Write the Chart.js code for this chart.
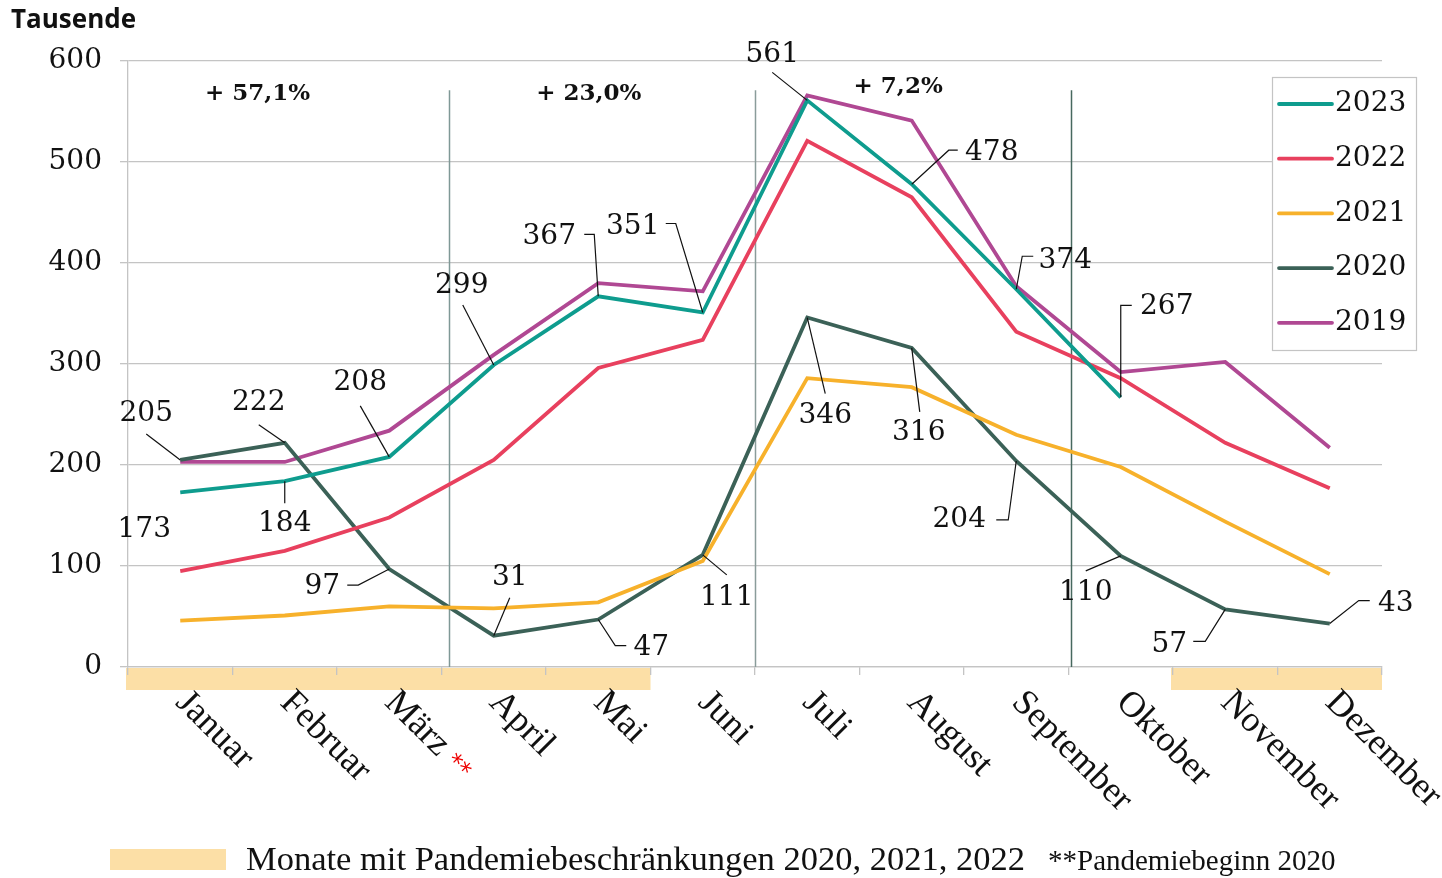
<!DOCTYPE html>
<html><head><meta charset="utf-8">
<script src="https://cdn.jsdelivr.net/npm/chart.js@4/dist/chart.umd.min.js"></script>
<style>html,body{margin:0;padding:0;background:#fff}canvas{display:block}</style>
</head><body>
<canvas id="c" width="1442" height="878"></canvas>
<script>
// ---------- data ----------
const months = ['Januar','Februar','März','April','Mai','Juni','Juli','August','September','Oktober','November','Dezember'];
const years = ['2023','2022','2021','2020','2019'];
const v2023 = [173,184,208,299,367,351,561,478,374,267,null,null];
const v2022 = [95,115,148,205,296,324,521,465,332,286,222,177];
const v2021 = [46,51,60,58,64,105,286,277,230,198,144,92];
const v2020 = [205,222,97,31,47,111,346,316,204,110,57,43];
const v2019 = [203,203,234,309,380,372,566,541,377,292,302,217];
const yTicks = [0,100,200,300,400,500,600];
const changeTexts = ['+ 57,1%','+ 23,0%','+ 7,2%'];
const restrictionSpans = [[0,4],[10,11]];        // month index ranges
const yAxisTitle = 'Tausende';
const restrictionLegend = 'Monate mit Pandemiebeschränkungen 2020, 2021, 2022';
const footnote = '**Pandemiebeginn 2020';
const markedMonth = 2; // März **

// ---------- styles / placements ----------
const colors = {'2023':'#0e9c8e','2022':'#e8405e','2021':'#f7b12b','2020':'#3b6157','2019':'#b04893'};
const SERIF_NUM = '"DejaVu Serif", serif';
const SERIF_TXT = '"Liberation Serif", serif';
// label placement: t = text offset from point, l = leader path offsets from point
const labelPlace = {
  '2023': [
    {t:[-36,37]},
    {t:[0,43], l:[[0,0],[0,22]]},
    {t:[-29,-74], l:[[-29,-51],[0,0]]},
    {t:[-32,-79], l:[[-31,-60],[0,0]]},
    {t:[-49,-60], l:[[-14,-62],[-4,-62],[0,0]]},
    {t:[-70,-86], l:[[-37,-89],[-27,-89],[0,0]]},
    {t:[-35,-46], l:[[-35,-28],[0,0]]},
    {t:[80,-32], l:[[46,-34],[37,-34],[0,0]]},
    {t:[49,-29], l:[[17,-33],[6,-33],[0,0]]},
    {t:[46,-91], l:[[11,-92],[0,-92],[0,0]]}
  ],
  '2020': [
    {t:[-34,-46], l:[[-34,-26],[0,0]]},
    {t:[-26,-40], l:[[-26,-18],[0,0]]},
    {t:[-67,18], l:[[-42,16],[-31,16],[0,0]]},
    {t:[16,-58], l:[[16,-38],[0,0]]},
    {t:[53,28], l:[[0,0],[17,26],[28,26]]},
    {t:[24,43], l:[[0,0],[24,20]]},
    {t:[18,98], l:[[0,0],[18,76]]},
    {t:[7,85], l:[[0,0],[8,64]]},
    {t:[-57,59], l:[[-20,59],[-8,59],[0,0]]},
    {t:[-35,37], l:[[-35,15],[0,0]]},
    {t:[-56,35], l:[[-32,32],[-20,32],[0,0]]},
    {t:[66,-20], l:[[40,-23],[29,-23],[0,0]]}
  ]
};
const changePlace = [[0.74,567],[3.91,567],[6.87,574]];   // [x index, y value]
const separators = [[2.57,'#7f9896'],[5.5,'#8a9c9a'],[8.52,'#47695f']];
const separatorTop = 571;

const series = {'2023':v2023,'2022':v2022,'2021':v2021,'2020':v2020,'2019':v2019};

const decoPlugin = {
  id:'deco',
  beforeDraw(chart){
    const ctx = chart.ctx, xs = chart.scales.x, ys = chart.scales.y;
    ctx.save();
    ctx.fillStyle = '#fcdfa6';
    restrictionSpans.forEach(([a,b])=>{
      const x0 = xs.getPixelForValue(a-0.5), x1 = xs.getPixelForValue(b+0.5);
      ctx.fillRect(x0-2, ys.bottom+1, x1-x0+2, 22);
    });
    ctx.restore();
  },
  beforeDatasetsDraw(chart){
    const ctx = chart.ctx, xs = chart.scales.x, ys = chart.scales.y;
    ctx.save();
    ctx.lineWidth = 1.5;
    separators.forEach(([v,c])=>{
      const x = Math.round(xs.getPixelForValue(v))+0.5;
      ctx.strokeStyle = c;
      ctx.beginPath(); ctx.moveTo(x, ys.getPixelForValue(separatorTop)); ctx.lineTo(x, ys.bottom); ctx.stroke();
    });
    ctx.restore();
  },
  afterDatasetsDraw(chart){
    const ctx = chart.ctx, xs = chart.scales.x, ys = chart.scales.y;
    ctx.save();
    // data labels with leader lines
    Object.keys(labelPlace).forEach(yr=>{
      const vals = series[yr];
      labelPlace[yr].forEach((p,i)=>{
        const v = vals[i]; if(v==null) return;
        const px = xs.getPixelForValue(i), py = ys.getPixelForValue(v);
        if(p.l){
          ctx.strokeStyle = '#111'; ctx.lineWidth = 1.2;
          ctx.beginPath();
          p.l.forEach((o,k)=>{ const X=px+o[0], Y=py+o[1]; k?ctx.lineTo(X,Y):ctx.moveTo(X,Y); });
          ctx.stroke();
        }
        ctx.fillStyle = '#111';
        ctx.font = '28px '+SERIF_NUM;
        ctx.textAlign = 'center'; ctx.textBaseline = 'middle';
        ctx.fillText(String(v), px+p.t[0], py+p.t[1]);
      });
    });
    // change percentages
    ctx.font = 'bold 23px '+SERIF_NUM;
    ctx.fillStyle = '#111'; ctx.textAlign='center'; ctx.textBaseline='middle';
    changeTexts.forEach((t,i)=>{
      ctx.fillText(t, xs.getPixelForValue(changePlace[i][0]), ys.getPixelForValue(changePlace[i][1]));
    });
    // legend box
    const lx = 1272, ly = 77, lw = 144, lh = 273;
    ctx.fillStyle = '#fff'; ctx.fillRect(lx,ly,lw,lh);
    ctx.strokeStyle = '#c4c4c4'; ctx.lineWidth = 1.2; ctx.strokeRect(lx+0.5,ly+0.5,lw,lh);
    chart.data.datasets.forEach((ds,k)=>{
      const y = ly + 27 + k*54.7;
      ctx.strokeStyle = ds.borderColor; ctx.lineWidth = 3.8; ctx.lineCap='round';
      ctx.beginPath(); ctx.moveTo(lx+7,y); ctx.lineTo(lx+60,y); ctx.stroke();
      ctx.fillStyle = '#111'; ctx.font = '28px '+SERIF_NUM; ctx.textAlign='left'; ctx.textBaseline='middle';
      ctx.fillText(ds.label, lx+63, y);
    });
    ctx.restore();
  },
  afterDraw(chart){
    const ctx = chart.ctx, xs = chart.scales.x, ys = chart.scales.y;
    ctx.save();
    // month labels rotated clockwise
    months.forEach((m,i)=>{
      const x = xs.getPixelForValue(i);
      ctx.save();
      ctx.translate(x+1, ys.bottom+30);
      ctx.rotate(Math.PI/4);
      ctx.font = '36px '+SERIF_TXT; ctx.fillStyle='#111'; ctx.textAlign='left'; ctx.textBaseline='middle';
      ctx.fillText(m,0,0);
      if(i===markedMonth){
        const w = ctx.measureText(m+' ').width;
        ctx.font = '24px "DejaVu Sans", sans-serif'; ctx.fillStyle = '#e00';
        ctx.fillText('**', w, 2);
      }
      ctx.restore();
    });
    // axis title
    ctx.fillStyle = '#111'; ctx.font = 'bold 26px "Open Sans", sans-serif';
    ctx.textAlign='left'; ctx.textBaseline='alphabetic';
    ctx.fillText(yAxisTitle, 11, 28);
    // bottom legend
    ctx.fillStyle = '#fcdfa6'; ctx.fillRect(110, 849, 116, 21);
    ctx.fillStyle = '#111'; ctx.font = '34.5px '+SERIF_TXT;
    ctx.fillText(restrictionLegend, 246, 870);
    ctx.font = '29px '+SERIF_TXT;
    ctx.fillText(footnote, 1048, 870);
    ctx.restore();
  }
};

const datasets = years.map(y=>({
  label:y, data:series[y], borderColor:colors[y], backgroundColor:colors[y],
  borderWidth:3.8, pointRadius:0, pointHoverRadius:0, tension:0, spanGaps:false, fill:false
}));

new Chart(document.getElementById('c'), {
  type:'line',
  data:{labels:months, datasets},
  options:{
    responsive:false, animation:false, devicePixelRatio:1,
    layout:{padding:{left:0,right:60,top:61,bottom:0}},
    plugins:{legend:{display:false}, tooltip:{enabled:false}},
    scales:{
      x:{
        offset:true,
        grid:{offset:true, drawOnChartArea:false, drawTicks:true, tickLength:8, color:'#c4c4c4', lineWidth:1.3},
        border:{color:'#c4c4c4', width:1.3},
        ticks:{display:false},
        afterFit(s){ s.height = 211; }
      },
      y:{
        min:0, max:600,
        afterBuildTicks(s){ s.ticks = yTicks.map(v=>({value:v})); },
        grid:{color:'#c4c4c4', lineWidth:1.3, tickLength:8},
        border:{color:'#c4c4c4', width:1.3},
        ticks:{padding:18, color:'#111', font:{family:'DejaVu Serif', size:28}},
        afterFit(s){ s.width = 128; }
      }
    }
  },
  plugins:[decoPlugin]
});
</script>
</body></html>
